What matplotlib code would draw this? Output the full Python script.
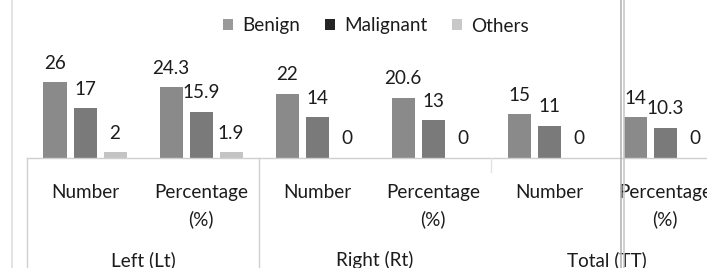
import matplotlib
matplotlib.use("Agg")
import matplotlib.pyplot as plt
from matplotlib.patches import Patch
from matplotlib.lines import Line2D
import matplotlib.transforms as mtransforms

plt.rcParams['font.family'] = ['Lato', 'DejaVu Sans']

# ---- data ----
tick_labels = ["Number", "Percentage\n(%)", "Number", "Percentage\n(%)", "Number", "Percentage\n(%)"]
group_labels = ["Left (Lt)", "Right (Rt)", "Total (TT)"]
series_names = ["Benign", "Malignant", "Others"]
benign = [26, 24.3, 22, 20.6, 15, 14]
malignant = [17, 15.9, 14, 13, 11, 10.3]
others = [2, 1.9, 0, 0, 0, 0]
value_text = {
    "Benign": ["26", "24.3", "22", "20.6", "15", "14"],
    "Malignant": ["17", "15.9", "14", "13", "11", "10.3"],
    "Others": ["2", "1.9", "0", "0", "0", "0"],
}

bar_colors = ["#8a8a8a", "#7a7a7a", "#c4c4c4"]
legend_colors = ["#9a9a9a", "#252525", "#c8c8c8"]

W, H = 707, 268
DPI = 100
fig = plt.figure(figsize=(W / DPI, H / DPI), dpi=DPI)
fig.patch.set_facecolor("white")

def px(x0, y0, w, h):
    return [x0 / W, 1 - (y0 + h) / H, w / W, h / H]

base_y = 158
ppu = 2.92
ymax = 30
ax_left = 27
cat_w = 116
ax = fig.add_axes(px(ax_left, base_y - ymax * ppu, cat_w * 6, ymax * ppu))
ax.set_xlim(-0.5, 5.5)
ax.set_ylim(0, ymax)
ax.patch.set_alpha(0)

bw = 23 / cat_w
off = 30 / cat_w
xs = list(range(6))
fs = 13.6
txt_color = "#1c1c1c"
for i, (name, vals, col) in enumerate(zip(series_names, [benign, malignant, others], bar_colors)):
    pos = [x + (i - 1) * off for x in xs]
    ax.bar(pos, vals, width=bw, color=col, edgecolor="none", clip_on=True)
    for p, v, t in zip(pos, vals, value_text[name]):
        ax.annotate(t, (p, v), xytext=(0, 19 * 72 / DPI), textcoords="offset points",
                    ha="center", va="center", fontsize=fs, color=txt_color, annotation_clip=False)

for s in ["top", "right", "left"]:
    ax.spines[s].set_visible(False)
ax.spines["bottom"].set_color("#cfcfcf")
ax.spines["bottom"].set_linewidth(1.0)
ax.set_yticks([])
ax.set_xticks(xs)
ax.set_xticklabels(tick_labels, fontsize=fs, color=txt_color, linespacing=1.63)
ax.tick_params(axis="x", length=0, pad=26 * 72 / DPI)
for lab in ax.get_xticklabels():
    lab.set_va("top")

trans = mtransforms.blended_transform_factory(ax.transData, fig.transFigure)
for gi, g in enumerate(group_labels):
    ax.text(gi * 2 + 0.5, 1 - 260 / H, g, transform=trans, ha="center", va="center",
            fontsize=fs, color=txt_color, clip_on=False)

# category-group separators
for xsep, ybot, c in [(-0.5, 268, "#d0d0d0"), (1.5, 268, "#cfcfcf"), (3.5, 172, "#e2e2e2")]:
    fig.add_artist(Line2D([xsep, xsep], [1 - base_y / H, 1 - ybot / H], transform=trans,
                          color=c, lw=1.0))

# scan border lines
for xl, c, lw in [(12, "#dedede", 1.2), (621, "#b5b5b5", 1.2), (623.5, "#c9c9c9", 1.2)]:
    fig.add_artist(Line2D([xl / W, xl / W], [0, 1], transform=fig.transFigure, color=c, lw=lw))

handles = [Patch(facecolor=c, edgecolor="none") for c in legend_colors]
leg = fig.legend(handles, series_names, loc="center", bbox_to_anchor=(376 / W, 1 - 26 / H),
                 ncol=3, frameon=False, fontsize=fs, handlelength=0.53, handleheight=0.53,
                 handletextpad=0.5, columnspacing=1.3, labelcolor=txt_color)

fig.savefig("out.png", dpi=DPI, facecolor="white")
